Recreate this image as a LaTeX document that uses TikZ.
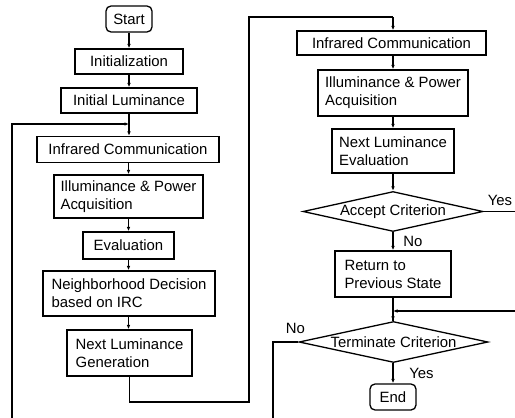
\documentclass[tikz,border=0pt]{standalone}
\usepackage{fontspec}
\setmainfont{Liberation Sans}
\usetikzlibrary{arrows.meta,shapes.geometric}
\begin{document}
\begin{tikzpicture}[x=1pt,y=-1pt,
  every node/.style={font=\fontsize{14.9}{18}\selectfont},
  box/.style={draw, line width=1.3pt, inner sep=0pt, align=center},
  mbox/.style={draw, line width=1.3pt, inner sep=0pt, align=left},
  rbox/.style={box, rounded corners=5pt},
  dec/.style={draw, diamond, line width=1.3pt, inner sep=0pt, aspect=4.5},
  arr/.style={line width=1.1pt, -{Latex[length=4.5pt,width=3.6pt]}},
  ln/.style={line width=1.1pt},
  lbl/.style={inner sep=0pt}
]
\useasboundingbox (0,0) rectangle (515,418);
% left column
\node[rbox, minimum width=46pt, minimum height=26pt] (start) at (129,19) {Start};
\node[box, minimum width=108pt, minimum height=25pt] (init) at (129,61.5) {Initialization};
\node[box, minimum width=136pt, minimum height=25pt] (ilum) at (129,100.5) {Initial Luminance};
\node[box, minimum width=182pt, minimum height=26pt] (irc1) at (128,149.5) {Infrared Communication};
\node[mbox, minimum width=149pt, minimum height=43pt] (ipa1) at (128.5,196.5) {Illuminance \& Power\\Acquisition};
\node[box, minimum width=91pt, minimum height=27pt] (eval) at (128.5,245.5) {Evaluation};
\node[mbox, minimum width=172pt, minimum height=45pt] (nd) at (129,293.5) {Neighborhood Decision\\based on IRC};
\node[mbox, minimum width=125pt, minimum height=46pt] (nlg) at (129.5,353) {Next Luminance\\Generation};
% right column
\node[box, minimum width=189pt, minimum height=24pt] (irc2) at (391.5,43) {Infrared Communication};
\node[mbox, minimum width=150pt, minimum height=46pt] (ipa2) at (393,93) {Illuminance \& Power\\Acquisition};
\node[mbox, minimum width=122pt, minimum height=44pt] (nle) at (393,151) {Next Luminance\\Evaluation};
\node[dec, minimum width=180pt, minimum height=40pt] (acc) at (393,211.5) {Accept Criterion};
\node[mbox, minimum width=116pt, minimum height=46pt] (ret) at (393,274) {Return to\\Previous State};
\node[dec, minimum width=189pt, minimum height=41pt] (term) at (393.5,342) {Terminate Criterion};
\node[rbox, minimum width=46pt, minimum height=26pt] (end) at (393,397) {End};
% labels
\node[lbl] (yes1) at (500,200) {Yes};
\node[lbl] (no1) at (413,241) {No};
\node[lbl] (no2) at (295.5,328) {No};
\node[lbl] (yes2) at (421.5,373) {Yes};
% free ends and corners
\coordinate (lbot) at (12,418);
\coordinate (lturn) at (12,124);
\coordinate (ljoin) at (129,124);
\coordinate (b1) at (129.5,402);
\coordinate (b2) at (249,402);
\coordinate (t1) at (249,17);
\coordinate (t2) at (393,17);
\coordinate (yesend) at (515,211.5);
\coordinate (rin) at (515,311);
\coordinate (rjoin) at (393,311);
\coordinate (nturn) at (273,342);
\coordinate (nbot) at (273,418);
% connectors left
\draw[arr] (start) -- (init);
\draw[arr] (init) -- (ilum);
\draw[arr] (ilum.south) -- (ilum.south |- irc1.north);
\draw[arr] (lbot) -- (lturn) -- (ljoin);
\draw[arr] (irc1.south -| ipa1) -- (ipa1.north);
\draw[arr] (ipa1) -- (eval);
\draw[arr] (eval.south) -- (eval.south |- nd.north);
\draw[arr] (nd.south -| eval) -- (eval |- nlg.north);
\draw[ln] (nlg.south) -- (b1) -- (b2) -- (t1) -- (t2);
\draw[arr] (t2) -- (t2 |- irc2.north);
% connectors right
\draw[arr] (irc2.south -| t2) -- (t2 |- ipa2.north);
\draw[arr] (ipa2) -- (nle);
\draw[arr] (nle) -- (acc);
\draw[ln] (acc.east) -- (yesend);
\draw[arr] (acc) -- (ret);
\draw[ln] (ret.south) -- (term.north -| ret);
\draw[arr] (rjoin) -- (rjoin |- term.north);
\draw[arr] (rin) -- (rjoin);
\draw[ln] (term.west) -- (nturn) -- (nbot);
\draw[arr] (term.south -| end) -- (end.north);
\end{tikzpicture}
\end{document}
